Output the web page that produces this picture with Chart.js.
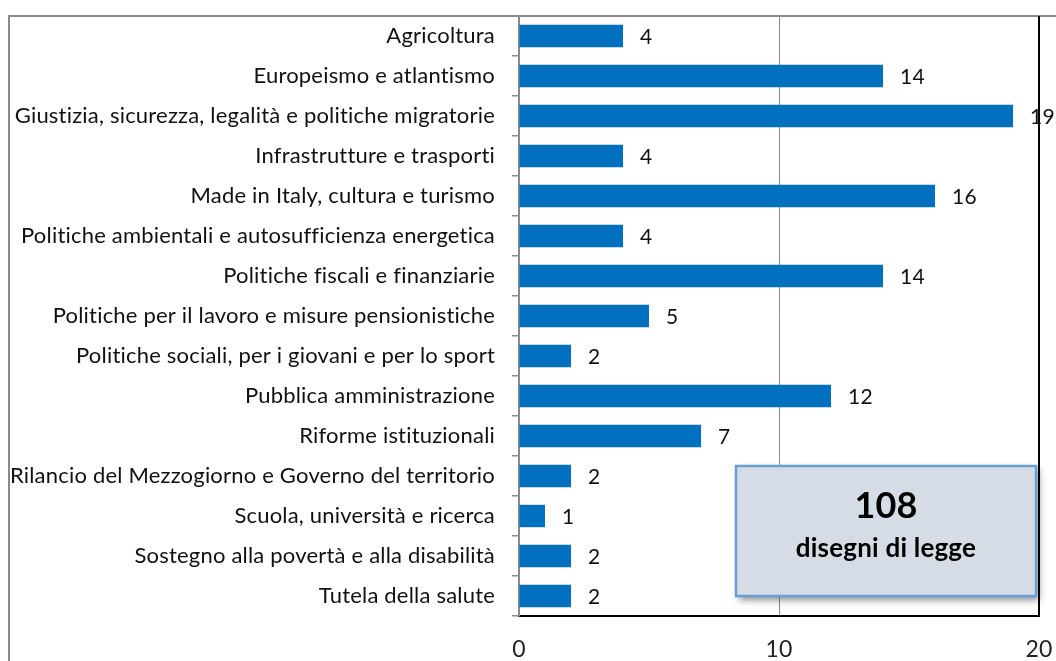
<!DOCTYPE html>
<html>
<head>
<meta charset="utf-8">
<script src="https://cdn.jsdelivr.net/npm/chart.js@4"></script>
<style>
    html, body { margin: 0; padding: 0; background: #fff; }
    #wrap { position: relative; width: 1056px; height: 661px; overflow: hidden; }
    #frame { position: absolute; left: 8px; top: 15px; width: 1100px; height: 700px;
             border-left: 2px solid #8a8a8a; border-top: 2px solid #8a8a8a; box-sizing: border-box; }
    canvas { position: absolute; left: 0; top: 0; }
</style>
</head>
<body>
<div id="wrap">
    <div id="frame"></div>
    <canvas id="bills" width="1056" height="661"></canvas>
</div>
<script>
const categories = [
    "Agricoltura",
    "Europeismo e atlantismo",
    "Giustizia, sicurezza, legalità e politiche migratorie",
    "Infrastrutture e trasporti",
    "Made in Italy, cultura e turismo",
    "Politiche ambientali e autosufficienza energetica",
    "Politiche fiscali e finanziarie",
    "Politiche per il lavoro e misure pensionistiche",
    "Politiche sociali, per i giovani e per lo sport",
    "Pubblica amministrazione",
    "Riforme istituzionali",
    "Rilancio del Mezzogiorno e Governo del territorio",
    "Scuola, università e ricerca",
    "Sostegno alla povertà e alla disabilità",
    "Tutela della salute"
];
const counts = [4, 14, 19, 4, 16, 4, 14, 5, 2, 12, 7, 2, 1, 2, 2];
const xTicks = [0, 10, 20];
const totalLabel = "108";
const totalCaption = "disegni di legge";

const FONT = "Lato, 'Open Sans', sans-serif";

// letter spacing breaks Lato's "ti" / "fi" ligatures
const noLigatures = {
    id: "noLigatures",
    beforeDraw(chart) {
        chart.ctx.letterSpacing = "0.2px";
    }
};

// numbers to the right of each bar
const valueLabels = {
    id: "valueLabels",
    afterDatasetsDraw(chart) {
        const ctx = chart.ctx;
        const meta = chart.getDatasetMeta(0);
        ctx.save();
        ctx.font = "21px " + FONT;
        ctx.fillStyle = "#111";
        ctx.textAlign = "left";
        ctx.textBaseline = "middle";
        meta.data.forEach((bar, i) => {
            ctx.fillText(String(counts[i]), bar.x + 17, bar.y + 1);
        });
        ctx.restore();
    }
};

// black right plot border + summary box
const extras = {
    id: "extras",
    afterDraw(chart) {
        const ctx = chart.ctx;
        const a = chart.chartArea;
        ctx.save();
        ctx.strokeStyle = "#000";
        ctx.lineWidth = 2;
        ctx.beginPath();
        ctx.moveTo(a.right, a.top);
        ctx.lineTo(a.right, a.bottom);
        ctx.stroke();

        const bx = 736, by = 466, bw = 300, bh = 130;
        ctx.shadowColor = "rgba(0,0,0,0.45)";
        ctx.shadowBlur = 7;
        ctx.shadowOffsetX = 3;
        ctx.shadowOffsetY = 4;
        ctx.fillStyle = "#D6DCE5";
        ctx.fillRect(bx, by, bw, bh);
        ctx.shadowColor = "transparent";
        ctx.strokeStyle = "#6A9FD6";
        ctx.lineWidth = 2.5;
        ctx.strokeRect(bx, by, bw, bh);

        ctx.fillStyle = "#000";
        ctx.textAlign = "center";
        ctx.textBaseline = "middle";
        ctx.font = "bold 36px " + FONT;
        ctx.fillText(totalLabel, bx + bw / 2, by + 40);
        ctx.font = "bold 26px " + FONT;
        ctx.fillText(totalCaption, bx + bw / 2, by + 83);
        ctx.restore();
    }
};

new Chart(document.getElementById("bills"), {
    type: "bar",
    data: {
        labels: categories,
        datasets: [{
            data: counts,
            backgroundColor: "#0070C0",
            borderWidth: 0,
            categoryPercentage: 1,
            barPercentage: 0.56
        }]
    },
    options: {
        indexAxis: "y",
        responsive: false,
        animation: false,
        layout: { padding: { top: 16, right: 17, left: 0, bottom: 0 } },
        plugins: {
            legend: { display: false },
            tooltip: { enabled: false }
        },
        scales: {
            x: {
                min: 0,
                max: 20,
                afterBuildTicks: scale => { scale.ticks = xTicks.map(v => ({ value: v })); },
                afterFit: scale => {
                    scale.height = 45;
                    scale.paddingLeft = 0;
                    scale.paddingRight = 0;
                },
                border: { color: "#000", width: 2 },
                grid: {
                    drawTicks: false,
                    color: c => (c.tick && c.tick.value === 10 ? "#8a8a8a" : "rgba(0,0,0,0)"),
                    lineWidth: 1
                },
                ticks: {
                    padding: 20,
                    color: "#222",
                    font: { family: FONT, size: 23 }
                }
            },
            y: {
                afterFit: scale => {
                    scale.width = 519;
                    scale.paddingTop = 0;
                    scale.paddingBottom = 0;
                },
                border: { color: "#8a8a8a", width: 2 },
                grid: {
                    offset: true,
                    drawOnChartArea: false,
                    drawTicks: true,
                    tickLength: 7,
                    color: "#8a8a8a",
                    lineWidth: 1.5
                },
                ticks: {
                    padding: 17,
                    color: "#111",
                    autoSkip: false,
                    font: { family: FONT, size: 22 }
                }
            }
        }
    },
    plugins: [noLigatures, valueLabels, extras]
});
</script>
</body>
</html>
